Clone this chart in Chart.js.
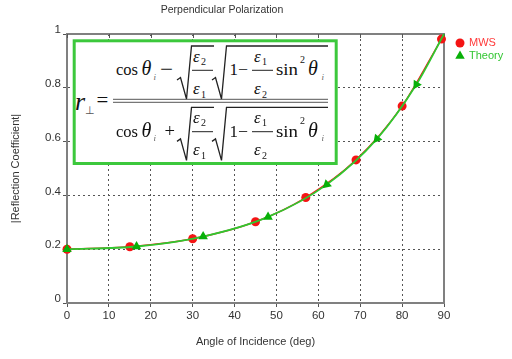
<!DOCTYPE html>
<html><head><meta charset="utf-8">
<script src="https://cdn.jsdelivr.net/npm/chart.js@4"></script>
<style>
html,body{margin:0;padding:0;background:#fff;}
#wrap{position:relative;width:512px;height:359px;overflow:hidden;}
#c{position:absolute;left:0;top:0;}
#eq{position:absolute;left:0;top:0;pointer-events:none;}
</style></head><body>
<div id="wrap"><canvas id="c" width="512" height="359"></canvas><svg id="eq" width="512" height="359" xmlns="http://www.w3.org/2000/svg"></svg></div>
<script>
// ---- data ----
const mwsAngles = [0, 15, 30, 45, 57, 69, 80, 89.4];
const mwsValues = [0.2, 0.209, 0.239, 0.302, 0.392, 0.532, 0.732, 0.981];
const theoryAngles = [0, 16.6, 32.5, 48, 62, 74, 83.4, 90];
const theoryValues = [0.2, 0.21, 0.247, 0.32, 0.44, 0.61, 0.812, 1.0];
const xTickValues = [0, 10, 20, 30, 40, 50, 60, 70, 80, 90];
const yTickValues = [0, 0.2, 0.4, 0.6, 0.8, 1];
const yTickLabels = ['0', '0.2', '0.4', '0.6', '0.8', '1'];
const seriesNames = ['MWS', 'Theory'];
const chartTitle = 'Perpendicular Polarization';
const xTitle = 'Angle of Incidence (deg)';
const yTitle = '|Reflection Coefficient|';

// ---- styles ----
const RED = '#f41414', GREEN_LINE = '#2fc82f', GREEN_PT = '#08b008';
const theoryRadius = [5.5, 5.5, 5.5, 5.5, 5.5, 5.5, 5.5, 0];
const theoryRotation = [0, 0, 0, 0, 228, 220, 212, 0];
const FONT = "'Liberation Sans', Arial, sans-serif";

const framePlugin = {
  id: 'frame',
  beforeDatasetsDraw(chart) {
    const {ctx, chartArea: a, scales} = chart;
    ctx.save();
    ctx.strokeStyle = '#808080';
    ctx.lineWidth = 2;
    ctx.beginPath();
    ctx.moveTo(a.left, a.top); ctx.lineTo(a.right, a.top); ctx.lineTo(a.right, a.bottom);
    ctx.stroke();
    ctx.strokeStyle = '#555';
    ctx.lineWidth = 1;
    ctx.beginPath();
    xTickValues.forEach(v => {
      const px = Math.round(scales.x.getPixelForValue(v)) + 0.5;
      ctx.moveTo(px, a.top); ctx.lineTo(px, a.top + 4);
    });
    ctx.stroke();
    ctx.restore();
  },
  afterDraw(chart) {
    const {ctx} = chart;
    const items = [
      {name: seriesNames[0], style: 'circle', r: 4.5, rot: 0, color: RED, text: '#ff3a3a', y: 43},
      {name: seriesNames[1], style: 'triangle', r: 5.5, rot: 0, color: GREEN_PT, text: '#33c633', y: 56}
    ];
    ctx.save();
    items.forEach(it => {
      ctx.fillStyle = it.color;
      Chart.helpers.drawPoint(ctx, {pointStyle: it.style, radius: it.r, rotation: it.rot, borderWidth: 0}, 460, it.y);
      ctx.fillStyle = it.text;
      ctx.font = '11px ' + FONT;
      ctx.textBaseline = 'middle';
      ctx.textAlign = 'left';
      ctx.fillText(it.name, 469, it.y);
    });
    ctx.restore();
  }
};

new Chart(document.getElementById('c'), {
  type: 'scatter',
  data: {
    datasets: [
      {
        label: seriesNames[1],
        data: theoryAngles.map((x, i) => ({x, y: theoryValues[i]})),
        showLine: true,
        borderColor: GREEN_LINE,
        borderWidth: 1.8,
        backgroundColor: GREEN_PT,
        pointStyle: 'triangle',
        pointRadius: theoryRadius,
        pointRotation: theoryRotation,
        pointBorderWidth: 0,
        pointBackgroundColor: GREEN_PT,
        cubicInterpolationMode: 'monotone',
        clip: false,
        order: 0
      },
      {
        label: seriesNames[0],
        data: mwsAngles.map((x, i) => ({x, y: mwsValues[i]})),
        showLine: true,
        borderColor: RED,
        borderWidth: 1.5,
        backgroundColor: RED,
        pointStyle: 'circle',
        pointRadius: 4.5,
        pointBorderWidth: 0,
        pointBackgroundColor: RED,
        cubicInterpolationMode: 'monotone',
        clip: false,
        order: 1
      }
    ]
  },
  options: {
    responsive: false,
    animation: false,
    devicePixelRatio: 1,
    layout: {padding: {left: 0, right: 68, top: 0, bottom: 0}},
    plugins: {
      legend: {display: false},
      tooltip: {enabled: false},
      title: {
        display: true, text: chartTitle, color: '#333',
        font: {family: FONT, size: 10.5, weight: 'normal', lineHeight: 1.2},
        padding: {top: 4, bottom: 17.4}
      }
    },
    scales: {
      x: {
        type: 'linear', min: 0, max: 90,
        afterBuildTicks: s => { s.ticks = xTickValues.map(v => ({value: v})); },
        afterFit: s => { s.height = 56; },
        ticks: {color: '#333', font: {family: FONT, size: 11.5}, padding: 2, maxRotation: 0, autoSkip: false},
        grid: {color: '#555', lineWidth: 1, tickLength: 4, tickColor: '#555', tickWidth: 1},
        border: {display: true, color: '#808080', width: 2, dash: [2, 3]},
        title: {display: true, text: xTitle, color: '#333', font: {family: FONT, size: 11, lineHeight: 1.2}, padding: {top: 0, bottom: 10}}
      },
      y: {
        type: 'linear', min: 0, max: 1,
        afterBuildTicks: s => { s.ticks = yTickValues.map(v => ({value: v})); },
        afterFit: s => { s.width = 67; },
        ticks: {
          color: '#333', font: {family: FONT, size: 11.5}, padding: 2, labelOffset: -4, autoSkip: false,
          callback: (v) => yTickLabels[yTickValues.findIndex(t => Math.abs(t - v) < 1e-9)]
        },
        grid: {color: '#555', lineWidth: 1, tickLength: 4, tickColor: '#555', tickWidth: 1},
        border: {display: true, color: '#808080', width: 2, dash: [2, 3]},
        title: {display: true, text: yTitle, color: '#333', font: {family: FONT, size: 11, lineHeight: 1.2}, padding: {top: 9, bottom: 0}}
      }
    }
  },
  plugins: [framePlugin]
});

// ---- equation overlay (real text) ----
function eqRow(sign, signX, signW) {
  const it = 'font-style="italic"';
  const L = 'lengthAdjust="spacingAndGlyphs"';
  return `
  <text x="116" y="75.3" font-size="17" textLength="22" ${L}>cos</text>
  <text x="141.5" y="75.3" font-size="20" ${it}>θ</text>
  <text x="153.5" y="80" font-size="9" ${it} fill="#666">i</text>
  <text x="${signX}" y="75.3" font-size="18" textLength="${signW}" ${L}>${sign}</text>
  <path d="M177,80 L180.5,77.5 L186.5,99 L191.5,46 H214" fill="none" stroke="#222" stroke-width="1.3"/>
  <text x="193" y="61.5" font-size="17" ${it}>ε</text><text x="201" y="65" font-size="10">2</text>
  <line x1="192" y1="70.3" x2="213" y2="70.3" stroke="#222" stroke-width="1"/>
  <text x="193" y="94" font-size="17" ${it}>ε</text><text x="201" y="97.5" font-size="10">1</text>
  <path d="M212,80 L215.5,77.5 L221.5,99 L226.5,46 H328" fill="none" stroke="#222" stroke-width="1.3"/>
  <text x="229.5" y="75.3" font-size="17">1</text>
  <text x="238" y="75.3" font-size="17" textLength="10" ${L}>−</text>
  <text x="254" y="61.5" font-size="17" ${it}>ε</text><text x="262" y="65" font-size="10">1</text>
  <line x1="252" y1="70.3" x2="273" y2="70.3" stroke="#222" stroke-width="1"/>
  <text x="254" y="94" font-size="17" ${it}>ε</text><text x="262" y="97.5" font-size="10">2</text>
  <text x="276" y="75.3" font-size="17" textLength="22" ${L}>sin</text>
  <text x="300" y="63" font-size="10">2</text>
  <text x="308" y="75.3" font-size="20" ${it}>θ</text>
  <text x="321.5" y="80" font-size="9" ${it} fill="#666">i</text>`;
}
document.getElementById('eq').innerHTML = `
<rect x="74.2" y="40.8" width="262" height="122.7" fill="#fff" stroke="#3cc83c" stroke-width="3"/>
<g font-family="'Liberation Serif','Times New Roman',serif" fill="#111">
  <text x="75" y="110" font-size="26" font-style="italic">r</text>
  <text x="85" y="114" font-size="11" fill="#555">⊥</text>
  <text x="96.5" y="106.5" font-size="20" textLength="11.8" lengthAdjust="spacingAndGlyphs">=</text>
  <line x1="113" y1="99.3" x2="328" y2="99.3" stroke="#555" stroke-width="1"/>
  <line x1="113" y1="102.3" x2="328" y2="102.3" stroke="#555" stroke-width="1"/>
  <g>${eqRow('−', 160, 13)}</g>
  <g transform="translate(0,61.4)">${eqRow('+', 164.5, 10.5)}</g>
</g>`;
</script>
</body></html>
